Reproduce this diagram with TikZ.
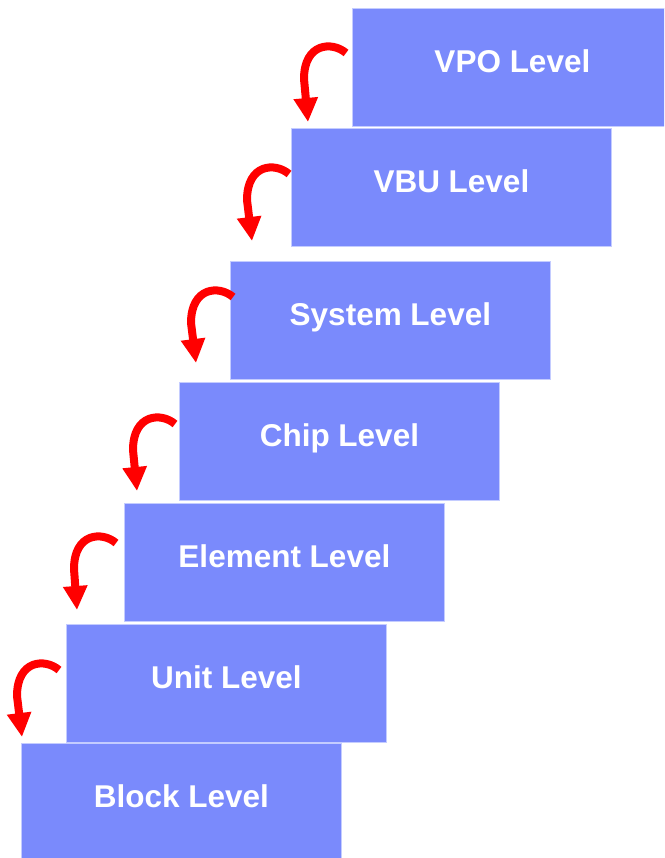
\documentclass[tikz,border=0pt]{standalone}
\usepackage{fontspec}
\setmainfont{Liberation Sans}
\usetikzlibrary{arrows.meta}
\definecolor{levelfill}{RGB}{122,138,252}
\definecolor{levelrim}{RGB}{196,204,255}
\definecolor{stepred}{RGB}{255,0,0}
\tikzset{
  levelbox/.style={rectangle, anchor=north west, fill=levelfill, draw=levelrim,
    line width=0.8pt, minimum width=320pt, minimum height=118pt, inner sep=0pt,
    text=white, font=\fontsize{31.5}{36}\selectfont\bfseries,
    text height=22pt, text depth=11pt},
  stairarrow/.style={draw=stepred, line width=8pt,
    -{Triangle[width=23pt,length=24pt]}}
}
\begin{document}
\begin{tikzpicture}[x=1pt,y=-1pt]
\useasboundingbox (0,0) rectangle (664,858);
\clip (0,0) rectangle (664,858);
% the seven levels, stepping down to the left
\node[levelbox] (vpo)     at (352,8)   {VPO Level};
\node[levelbox] (vbu)     at (291,128) {VBU Level};
\node[levelbox] (system)  at (230,261) {System Level};
\node[levelbox] (chip)    at (179,382) {Chip Level};
\node[levelbox] (element) at (124,503) {Element Level};
\node[levelbox] (unit)    at (66,624)  {Unit Level};
\node[levelbox] (block)   at (21,743)  {Block Level};
% curved arrows from each level down to the next
\draw[stairarrow] ([xshift=-6pt,yshift=-45pt]vpo.north west)
  .. controls +(-14,-12) and +(0,-36) .. ++(-42,26) -- ++(4,43);
\draw[stairarrow] ([xshift=-2pt,yshift=-46pt]vbu.north west)
  .. controls +(-14,-12) and +(0,-36) .. ++(-42,26) -- ++(5,41);
\draw[stairarrow] ([xshift=3pt,yshift=-36pt]system.north west)
  .. controls +(-14,-12) and +(0,-36) .. ++(-42,26) -- ++(5,40);
\draw[stairarrow] ([xshift=-4pt,yshift=-42pt]chip.north west)
  .. controls +(-14,-12) and +(0,-36) .. ++(-42,26) -- ++(4,41);
\draw[stairarrow] ([xshift=-8pt,yshift=-40pt]element.north west)
  .. controls +(-14,-12) and +(0,-36) .. ++(-42,26) -- ++(3,41);
\draw[stairarrow] ([xshift=-7pt,yshift=-46pt]unit.north west)
  .. controls +(-14,-12) and +(0,-36) .. ++(-42,26) -- ++(5,41);
\end{tikzpicture}
\end{document}
